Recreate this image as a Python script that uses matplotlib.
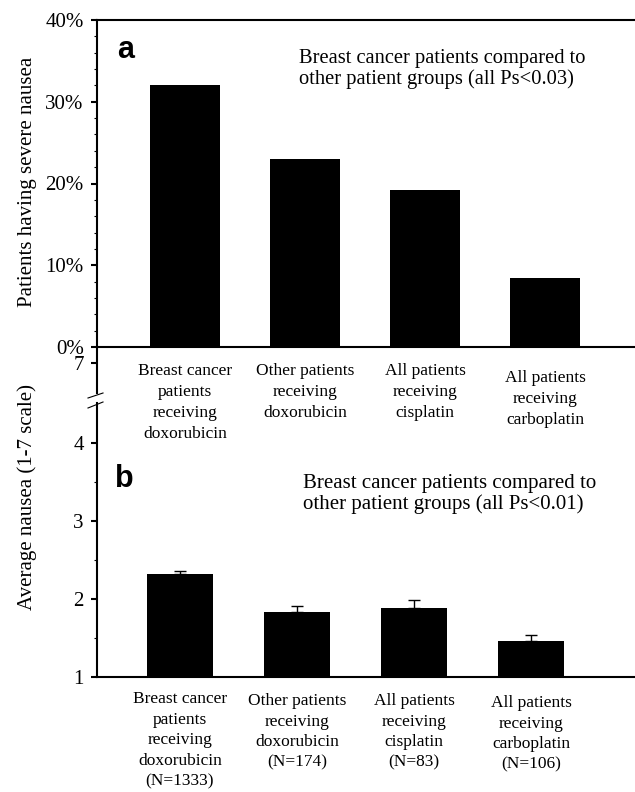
"""
Severe nausea (a) and average nausea (b) by patient group
"""

import matplotlib
matplotlib.use('Agg')
import matplotlib.pyplot as plt
import matplotlib.ticker as ticker
from matplotlib.lines import Line2D

plt.rcParams['font.family'] = ['Liberation Serif', 'DejaVu Serif']

# 数据
groups_a = ['Breast cancer\npatients\nreceiving\ndoxorubicin',
            'Other patients\nreceiving\ndoxorubicin',
            'All patients\nreceiving\ncisplatin',
            'All patients\nreceiving\ncarboplatin']
severe_pct = [32.0, 23.0, 19.2, 8.5]

groups_b = ['Breast cancer\npatients\nreceiving\ndoxorubicin\n(N=1333)',
            'Other patients\nreceiving\ndoxorubicin\n(N=174)',
            'All patients\nreceiving\ncisplatin\n(N=83)',
            'All patients\nreceiving\ncarboplatin\n(N=106)']
avg_nausea = [2.32, 1.83, 1.885, 1.46]
avg_err = [0.04, 0.08, 0.10, 0.08]

note_a = 'Breast cancer patients compared to\nother patient groups (all Ps<0.03)'
note_b = 'Breast cancer patients compared to\nother patient groups (all Ps<0.01)'

W, H = 635, 792
LW = 1.5


def px(x, y):
    """像素坐标 -> figure 坐标"""
    return x / W, 1 - y / H


fig = plt.figure(figsize=(W / 100, H / 100), dpi=100)

left = 97 / W
ax_a = fig.add_axes([left, 1 - 347 / H, 1 - left, (347 - 20) / H])
ax_b7 = fig.add_axes([left, 1 - 393 / H, 1 - left, (393 - 347) / H])
ax_b = fig.add_axes([left, 1 - 677 / H, 1 - left, (677 - 403) / H])

# ---- panel a ----
xa = range(len(severe_pct))
ax_a.bar(xa, severe_pct, width=0.59, color='black')
ax_a.set_xlim(-0.733, 3.75)
ax_a.set_ylim(0, 40)
ax_a.yaxis.set_major_locator(ticker.MultipleLocator(10))
ax_a.yaxis.set_minor_locator(ticker.MultipleLocator(2))
ax_a.yaxis.set_major_formatter(ticker.PercentFormatter(xmax=100, decimals=0))
ax_a.set_xticks([])
ax_a.spines['right'].set_visible(False)
ax_a.set_ylabel('Patients having severe nausea', fontsize=15)
ax_a.yaxis.set_label_coords(-0.112, 0.505)

label_off_a = [16, 16, 16, 23]
for i, (lab, off) in enumerate(zip(groups_a, label_off_a)):
    ax_a.annotate(lab, xy=(i, 0), xycoords=('data', 'axes fraction'),
                  xytext=(0, -off), textcoords='offset pixels',
                  ha='center', va='top', fontsize=12.5, linespacing=1.42)

ax_a.text(0.375, 0.911, note_a, transform=ax_a.transAxes, fontsize=14.8,
          ha='left', va='top', linespacing=1.1)
ax_a.text(0.037, 0.884, 'a', transform=ax_a.transAxes, fontsize=22,
          fontweight='bold', family='Liberation Sans', va='baseline')

# ---- panel b: 断轴上段 (7) ----
ax_b7.set_ylim(6.615, 7.205)
ax_b7.set_yticks([7])
ax_b7.set_xticks([])
for s in ['top', 'right', 'bottom']:
    ax_b7.spines[s].set_visible(False)
ax_b7.patch.set_visible(False)

# ---- panel b ----
xb = range(len(avg_nausea))
ax_b.bar(xb, avg_nausea, width=0.56, color='black',
         yerr=[[0] * len(avg_err), avg_err],
         error_kw=dict(ecolor='black', elinewidth=1, capsize=4.5, capthick=1))
ax_b.set_xlim(-0.709, 3.889)
ax_b.set_ylim(1, 4.51)
ax_b.yaxis.set_major_locator(ticker.MultipleLocator(1))
ax_b.yaxis.set_minor_locator(ticker.FixedLocator([1.5, 2.5, 3.5]))
ax_b.set_xticks([])
for s in ['top', 'right']:
    ax_b.spines[s].set_visible(False)
ax_b.patch.set_visible(False)
ax_b.set_ylabel('Average nausea (1-7 scale)', fontsize=15)
ax_b.yaxis.set_label_coords(-0.112, 0.657)

label_off_b = [14, 16, 16, 18]
for i, (lab, off) in enumerate(zip(groups_b, label_off_b)):
    ax_b.annotate(lab, xy=(i, 0), xycoords=('data', 'axes fraction'),
                  xytext=(0, -off), textcoords='offset pixels',
                  ha='center', va='top', fontsize=12.5, linespacing=1.38)

ax_b.text(0.383, 0.74, note_b, transform=ax_b.transAxes, fontsize=15,
          ha='left', va='top', linespacing=1.1)
ax_b.text(0.033, 0.693, 'b', transform=ax_b.transAxes, fontsize=22,
          fontweight='bold', family='Liberation Sans', va='baseline')

# 公共样式
for ax in (ax_a, ax_b7, ax_b):
    for s in ax.spines.values():
        s.set_linewidth(LW)
    ax.tick_params(axis='y', which='major', direction='out', length=4.5,
                   width=LW, labelsize=15, pad=5)
    ax.tick_params(axis='y', which='minor', direction='out', length=2.5,
                   width=0.8)

# 断轴斜线
for y0, y1 in [(398, 393), (408, 402)]:
    x0f, y0f = px(88, y0)
    x1f, y1f = px(103, y1)
    fig.add_artist(Line2D([x0f, x1f], [y0f, y1f], color='black',
                          linewidth=0.8, transform=fig.transFigure))

plt.savefig('out.png', dpi=100)
plt.close()
